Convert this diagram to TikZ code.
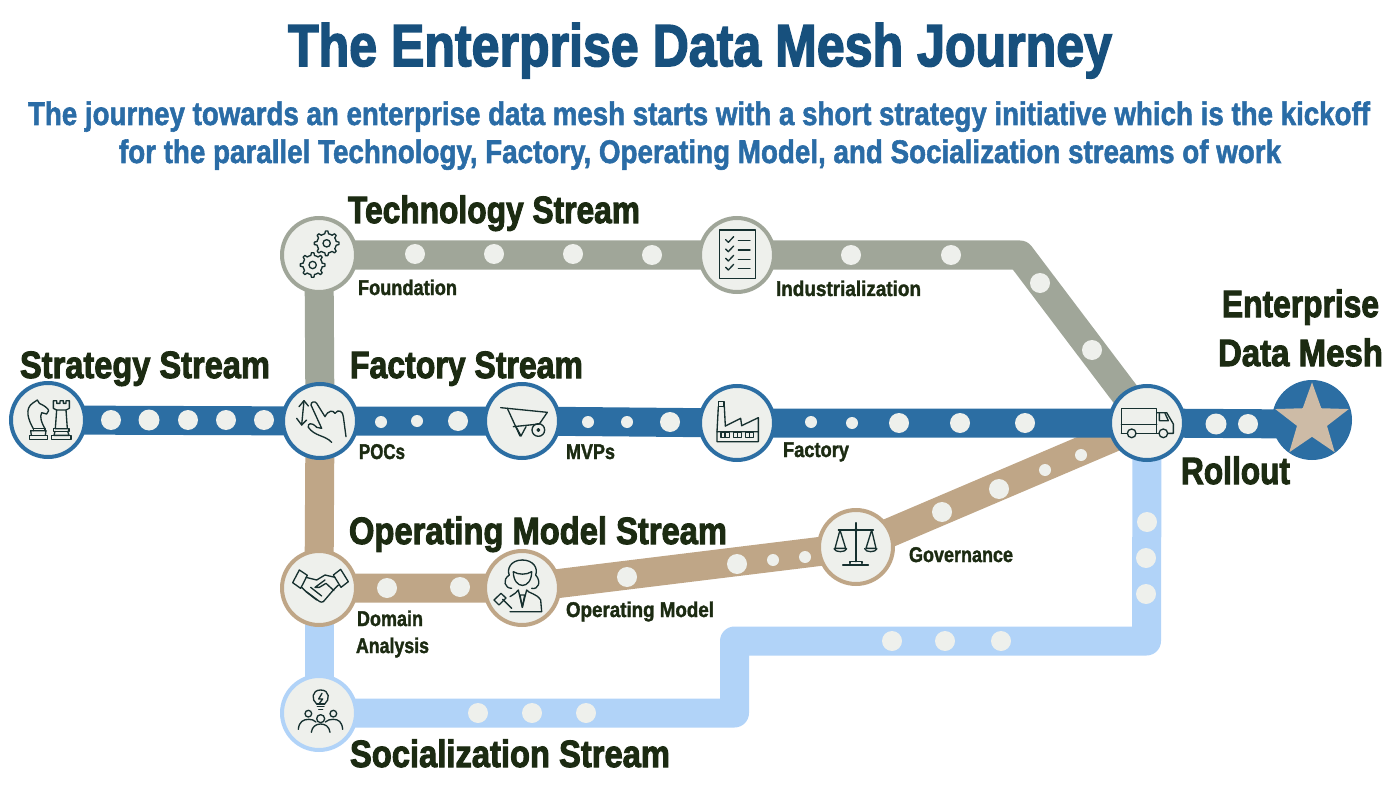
\documentclass[tikz,border=0pt]{standalone}
\usepackage{graphicx}
\usepackage{fontspec}
\setmainfont[FakeBold=1.8]{Liberation Sans}
\newfontfamily\hvfont[FakeBold=2.8]{Liberation Sans}
\usetikzlibrary{shapes.geometric,backgrounds}
\newdimen\pxu \pxu=0.75pt
\definecolor{cblue}{HTML}{2C6EA3}
\definecolor{cgrey}{HTML}{A0A699}
\definecolor{ctan}{HTML}{BFA687}
\definecolor{clight}{HTML}{B1D3F8}
\definecolor{cfill}{HTML}{EEF0EC}
\definecolor{cink}{HTML}{1C2B12}
\definecolor{cicon}{HTML}{16302F}
\definecolor{ctitle}{HTML}{17507D}
\definecolor{csub}{HTML}{2A6CA6}
\definecolor{cstar}{HTML}{CDBBA6}
\newcommand\tx[3]{{\fontsize{#1}{#1}\selectfont\bfseries\resizebox{#2\pxu}{\height}{#3}}}
\newcommand\hx[3]{{\hvfont\fontsize{#1}{#1}\selectfont\bfseries\resizebox{#2\pxu}{\height}{#3}}}
\tikzset{
  station/.style={circle,draw=#1,fill=cfill,line width=3pt,minimum size=55.5pt,inner sep=0pt,outer sep=0pt},
  track/.style={draw=#1,line width=21.75pt,line join=round,line cap=butt},
  lab/.style={anchor=base west,inner sep=0pt,outer sep=0pt,text=cink},
  zm/.style 2 args={shift={(#1,#2)},x=0.25pt,y=-0.25pt},
  icon/.style={draw=cicon,line width=1pt,line join=round,line cap=round},
}
\begin{document}
\begin{tikzpicture}[x=0.75pt,y=-0.75pt]
\useasboundingbox (0,0) rectangle (1400,788);
% titles
\node[lab,text=ctitle] (title) at (288,66) {\hx{44.5}{824}{The Enterprise Data Mesh Journey}};
\node[lab,text=csub] (sub1) at (28,125) {\tx{24.5}{1342}{The journey towards an enterprise data mesh starts with a short strategy initiative which is the kickoff}};
\node[lab,text=csub] (sub2) at (119,163) {\tx{24.5}{1162}{for the parallel Technology, Factory, Operating Model, and Socialization streams of work}};
% stations
\node[station=cblue] (strat) at (48,420) {};
\node[station=cblue] (poc) at (320,421) {};
\node[station=cgrey] (found) at (319,255) {};
\node[station=ctan] (domain) at (319,588) {};
\node[station=clight] (social) at (319,713) {};
\node[station=ctan] (opm) at (522,588) {};
\node[station=cblue] (mvp) at (522,421) {};
\node[station=cblue] (fact) at (737,423) {};
\node[station=cgrey] (indus) at (737,255) {};
\node[station=ctan] (gov) at (856,547) {};
\node[station=cblue] (roll) at (1147,423) {};
\node[circle,fill=cblue,minimum size=60pt,inner sep=0pt,outer sep=0pt] (mesh) at (1312,420) {};
\node[star,star points=5,star point ratio=2.45,fill=cstar,minimum size=58pt,inner sep=0pt,outer sep=0pt] (meshstar) at (1312,421) {};
% tracks
\coordinate (gc) at (1020,255);
\coordinate (l1) at (1146.5,641);
\coordinate (l2) at (734.5,641);
\coordinate (l3) at (734.5,713);
\coordinate (me) at (1300,424);
\begin{scope}[on background layer]
\draw[track=cgrey] (found.center) -- (indus.center) -- (gc) -- (roll.center);
\draw[track=cgrey] (found.center) -- (poc.center);
\draw[track=ctan] (poc.center) -- (domain.center);
\draw[track=clight] (domain.center) -- (social.center);
\draw[track=clight] (roll.center) -- (l1) -- (l2) -- (l3) -- (social.center);
\draw[track=ctan] (domain.center) -- (opm.center) -- (gov.center) -- (roll.center);
\draw[track=cblue] (strat.center) -- (poc.center) -- (mvp.center) -- (fact.center) -- (roll.center) -- (me);
\end{scope}
% dots
\foreach \x/\y/\r in {111/420/10,149/420/10.5,188/420/10,226/420/10,264/420/10,
  381/422/6,417/421/6,458/421/10,
  415/254/10,494/254/10,573/254/10,652/255/10,851/255/10,951/255/10,1040/283/10,1092/350/10,
  588/422/6,627/422/6,670/422/10,811/422/6,852/423/6,899/423/10,960/423/10,1025/423/10,
  1216/424/10.5,1248/424/10,
  387/588/10,460/587/10,627/577/10,737/564/10,773/560/6,805/557/6,
  942/512/10,999/489/10,1045/470/6,1081/455/6,
  478/713/10,532/713/10,586/713/10,892/641/10,945/641/10,1001/641/10,
  1147/522/10,1146/558/10,1146/594/10}
  \fill[cfill] (\x,\y) circle[radius=\r];
% labels
\node[lab] (ltech) at (348,223) {\hx{28.5}{292}{Technology Stream}};
\node[lab] (lfact) at (350,378) {\hx{28.5}{233}{Factory Stream}};
\node[lab] (lstrat) at (20,378) {\hx{28.5}{250}{Strategy Stream}};
\node[lab] (lop) at (349,544) {\hx{28.5}{378}{Operating Model Stream}};
\node[lab] (lsoc) at (350,767) {\hx{28.5}{320}{Socialization Stream}};
\node[lab] (lroll) at (1181,484) {\hx{28.5}{109}{Rollout}};
\node[lab] (lent) at (1222,317) {\hx{28.5}{157}{Enterprise}};
\node[lab] (ldm) at (1218,366) {\hx{28.5}{165}{Data Mesh}};
\node[lab] (l1a) at (358,295) {\tx{16}{99}{Foundation}};
\node[lab] (l1b) at (359,459) {\tx{16}{46}{POCs}};
\node[lab] (l1c) at (776,296) {\tx{16}{145}{Industrialization}};
\node[lab] (l1d) at (566,459) {\tx{16}{49}{MVPs}};
\node[lab] (l1e) at (783,457) {\tx{16}{66}{Factory}};
\node[lab] (l1f) at (909,562) {\tx{16}{104}{Governance}};
\node[lab] (l1g) at (566,617) {\tx{16}{148}{Operating Model}};
\node[lab] (l1h) at (357,626) {\tx{16}{66}{Domain}};
\node[lab] (l1i) at (356,653) {\tx{16}{73}{Analysis}};
% icons: chess
\begin{scope}[zm={0}{190},icon]
\draw (88,748) rectangle (143,736);
\draw (94,736) -- (92,722) -- (138,722) -- (136,736);
\draw (100,722) -- (100,716) -- (135,716) -- (135,722);
\draw (100,716) .. controls (85,690) and (72,655) .. (100,638) -- (112,630) -- (118,640) .. controls (130,645) and (145,655) .. (146,662) -- (140,672) -- (125,668) .. controls (118,680) and (125,700) .. (135,716);
\draw (160,632) -- (170,632) -- (170,640) -- (180,640) -- (180,632) -- (190,632) -- (190,640) -- (198,640) -- (198,632) -- (208,632) -- (208,655) -- (198,660) -- (170,660) -- (160,655) -- cycle;
\draw (170,660) -- (166,716) -- (202,716) -- (198,660);
\draw (160,716) rectangle (207,724);
\draw (165,724) -- (162,736) -- (207,736) -- (203,724);
\draw (155,748) rectangle (213,736);
% hand
\draw (912,632) -- (905,705);
\draw (897,650) -- (912,632) -- (925,648);
\draw (890,685) -- (905,705) -- (920,690);
\draw (995,757) .. controls (975,735) and (945,740) .. (925,712) .. controls (922,700) and (935,695) .. (950,712) -- (965,715) -- (933,645) .. controls (932,635) and (945,632) .. (950,640) -- (975,680) .. controls (985,660) and (1000,660) .. (1005,670) .. controls (1015,655) and (1030,665) .. (1030,680) -- (1038,740);
% gears
\draw[shift={(980,160)}] plot[domain=0:360,samples=65] (\x:{cos(8*\x)>0?37:29}) -- cycle;
\draw (980,160) circle[radius=11];
\draw[shift={(938,225)}] plot[domain=0:360,samples=65] (\x:{cos(8*\x)>0?37:29}) -- cycle;
\draw (938,225) circle[radius=11];
\end{scope}
% checklist, wheelbarrow, factory
\begin{scope}[zm={470}{200},icon]
\draw (748,90) rectangle (857,235);
\foreach \y in {122,150,178,205}{
  \draw (767,\y-3) -- (775,\y+5) -- (791,\y-12);
  \draw (805,\y) -- (840,\y);
}
\draw (92,623) -- (112,625) -- (150,708);
\draw (112,625) -- (232,637) -- (208,672) -- (130,680);
\draw (138,680) -- (153,708) -- (168,680);
\draw (205,690) circle[radius=19];
\draw (205,690) circle[radius=4];
\draw (746,605) rectangle (762,620);
\draw (745,620) -- (741,695); \draw (763,620) -- (766,678);
\draw (766,678) -- (812,655) -- (815,677) -- (865,653) -- (865,725) -- (741,725) -- (741,695) -- (865,695);
\foreach \a in {753,790,826}{
  \draw (\a,697) rectangle ++(25,15);
  \draw (\a+12,697) -- (\a+12,712);
}
\end{scope}
% handshake, lawyer, people
\begin{scope}[zm={270}{500},icon]
\draw (88,210) -- (112,226) -- (92,265) -- (68,248) -- cycle;
\draw (212,208) -- (235,245) -- (213,262) -- (190,225) -- cycle;
\draw (108,232) -- (140,240) -- (165,225) -- (195,232);
\draw (205,255) -- (190,270) -- (160,305) .. controls (150,310) and (145,300) .. (140,298) -- (105,272);
\draw (95,262) -- (105,272);
\draw (165,240) -- (135,262) -- (148,262) -- (168,250) -- (192,272);
\draw (122,262) -- (155,288); \draw (108,275) -- (140,300);
\draw (730,215) .. controls (730,270) and (785,270) .. (785,215) .. controls (770,225) and (745,225) .. (730,215);
\draw (757,180) .. controls (720,180) and (710,210) .. (718,225) .. controls (695,240) and (705,265) .. (725,265);
\draw (757,180) .. controls (790,180) and (805,205) .. (797,225) .. controls (815,245) and (805,270) .. (785,265);
\draw (720,290) .. controls (735,280) and (740,278) .. (745,270) -- (757,322) -- (770,270) .. controls (775,280) and (800,280) .. (812,300) -- (815,335) -- (720,335);
\draw (750,285) -- (757,322) -- (764,285) -- cycle;
\draw (672,300) -- (693,280) -- (708,294) -- (687,315) -- cycle;
\draw (698,298) -- (725,325);
\draw (140,612) .. controls (124,600) and (124,570) .. (152,570) .. controls (180,570) and (180,600) .. (164,612);
\draw (140,612) -- (164,612); \draw (142,620) -- (162,620); \draw (146,628) -- (158,628);
\draw (156,580) -- (146,597) -- (158,597) -- (148,610);
\draw (115,641) circle[radius=10];
\draw (152,656) circle[radius=12];
\draw (190,641) circle[radius=10];
\draw (85,688) .. controls (87,665) and (100,658) .. (116,658) .. controls (125,658) and (132,660) .. (138,666);
\draw (124,697) .. controls (126,680) and (138,672) .. (152,672) .. controls (166,672) and (178,680) .. (180,697);
\draw (166,666) .. controls (172,660) and (180,658) .. (190,658) .. controls (205,658) and (216,665) .. (218,688);
\end{scope}
% truck
\begin{scope}[zm={1040}{270},icon]
\draw (244,490) -- (244,415) -- (350,415) -- (350,490);
\draw (244,463) -- (350,463);
\draw (244,490) -- (261,490); \draw (288,490) -- (356,490); \draw (384,490) -- (400,490) -- (400,462) -- (380,428) -- (350,428);
\draw (358,430) -- (358,452) -- (385,452) -- (375,430);
\draw (275,490) circle[radius=13];
\draw (370,490) circle[radius=13];
\end{scope}
% scales
\begin{scope}[zm={790}{480},icon]
\draw (198,128) -- (198,245);
\draw (145,150) -- (250,150);
\draw[fill=cfill] (198,150) circle[radius=4];
\draw (150,150) -- (135,205) -- (167,205) -- cycle;
\draw (245,150) -- (228,205) -- (258,205) -- cycle;
\draw (132,206) .. controls (135,218) and (167,218) .. (170,206);
\draw (224,206) .. controls (227,218) and (257,218) .. (261,206);
\draw (180,250) -- (180,245) -- (216,245) -- (216,250);
\draw (158,255) -- (235,255);
\end{scope}
\end{tikzpicture}
\end{document}
